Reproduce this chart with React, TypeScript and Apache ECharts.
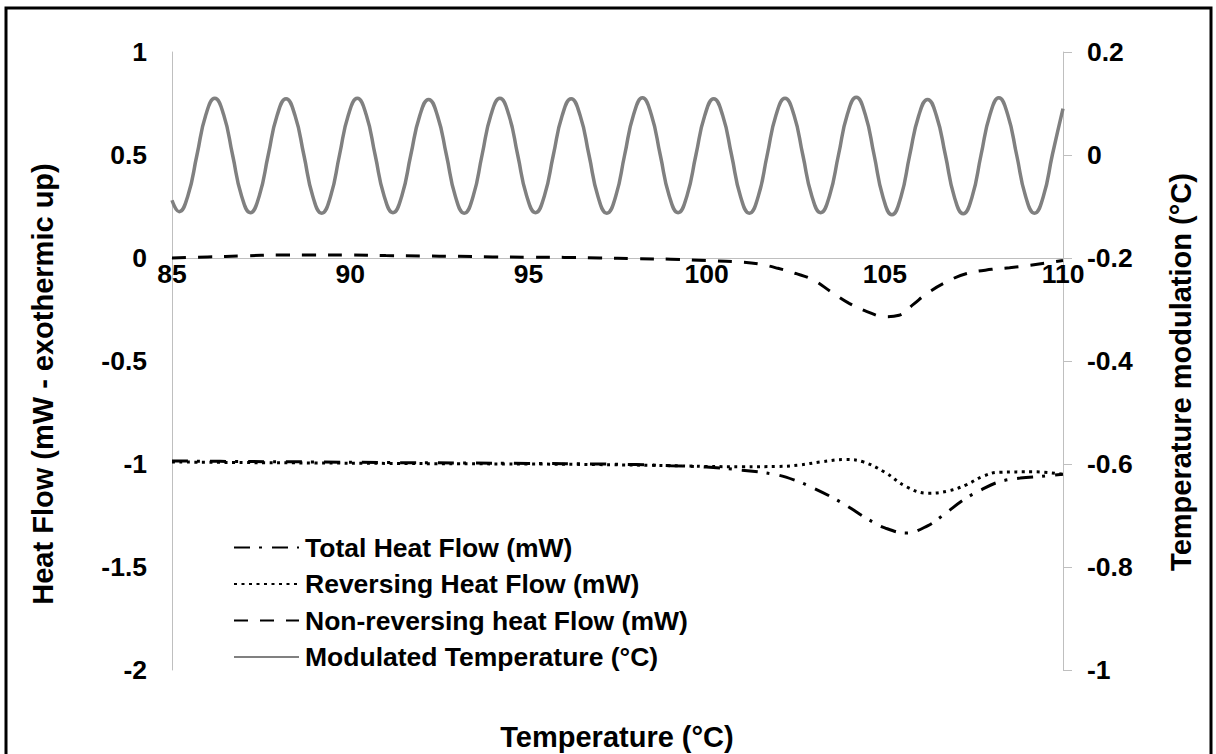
import React, { useEffect, useRef } from "react";
import * as echarts from "echarts";

// Modulated DSC run: heat flow signals (left axis, mW) and temperature modulation (right axis, °C)
const xTicks = { min: 85, max: 110, interval: 5 };
const leftTicks = { min: -2, max: 1, interval: 0.5 };
const rightTicks = { min: -1, max: 0.2, interval: 0.2 };

const seriesNames = [
  "Total Heat Flow (mW)",
  "Reversing Heat Flow (mW)",
  "Non-reversing heat Flow (mW)",
  "Modulated Temperature (°C)",
];

// [temperature °C, heat flow mW]
const totalHeatFlow: [number, number][] = [
  [85, -0.985], [87, -0.988], [89, -0.99], [91, -0.993], [93, -0.995],
  [95, -0.997], [97, -1.0], [98, -1.003], [99, -1.008], [100, -1.015],
  [101, -1.03], [101.9, -1.05], [102.5, -1.08], [103, -1.117], [103.5, -1.16],
  [104, -1.21], [104.5, -1.265], [105, -1.31], [105.6, -1.335], [106.2, -1.3],
  [106.7, -1.24], [107.2, -1.175], [107.7, -1.126], [108.2, -1.087],
  [108.8, -1.068], [109.4, -1.06], [110, -1.05],
];

const reversingHeatFlow: [number, number][] = [
  [85, -0.99], [87, -0.993], [89, -0.995], [91, -0.997], [93, -0.999],
  [95, -1.0], [97, -1.003], [99, -1.008], [100, -1.012], [101, -1.013],
  [102, -1.012], [102.6, -1.005], [103.2, -0.99], [103.9, -0.978],
  [104.4, -0.99], [105, -1.04], [105.6, -1.11], [106.2, -1.142],
  [106.8, -1.13], [107.3, -1.1], [107.75, -1.06], [108.2, -1.04],
  [109.2, -1.038], [110, -1.05],
];

const nonReversingHeatFlow: [number, number][] = [
  [85, 0.0], [86, 0.005], [87, 0.01], [88, 0.015], [89, 0.015], [90, 0.015],
  [91, 0.012], [92, 0.01], [93, 0.008], [94, 0.005], [95, 0.004], [96, 0.003],
  [97, 0.0], [98, -0.003], [99, -0.006], [100, -0.012], [101, -0.02],
  [101.5, -0.03], [102, -0.05], [102.5, -0.075], [103, -0.107],
  [103.5, -0.165], [104, -0.22], [104.5, -0.26], [105, -0.285],
  [105.4, -0.278], [105.8, -0.225], [106.2, -0.17], [106.8, -0.11],
  [107.3, -0.075], [108, -0.055], [108.5, -0.047], [109, -0.037],
  [109.5, -0.025], [110, -0.012],
];

// [temperature °C, modulation °C] sampled along the oscillation
const modulatedTemperature: [number, number][] = [
  [85.0, -0.088], [85.2, -0.11], [85.45, -0.078], [85.7, 0], [85.95, 0.078],
  [86.2, 0.11], [86.45, 0.078], [86.7, 0], [86.95, -0.079], [87.2, -0.112],
  [87.45, -0.079], [87.7, 0], [87.95, 0.077], [88.2, 0.109], [88.45, 0.077],
  [88.7, 0], [88.95, -0.08], [89.2, -0.113], [89.45, -0.08], [89.7, 0],
  [89.95, 0.078], [90.2, 0.11], [90.45, 0.078], [90.7, 0], [90.95, -0.079],
  [91.2, -0.112], [91.45, -0.079], [91.7, 0], [91.95, 0.076], [92.2, 0.108],
  [92.45, 0.076], [92.7, 0], [92.95, -0.08], [93.2, -0.113], [93.45, -0.08],
  [93.7, 0], [93.95, 0.078], [94.2, 0.11], [94.45, 0.078], [94.7, 0],
  [94.95, -0.079], [95.2, -0.112], [95.45, -0.079], [95.7, 0], [95.95, 0.077],
  [96.2, 0.109], [96.45, 0.077], [96.7, 0], [96.95, -0.08], [97.2, -0.113],
  [97.45, -0.08], [97.7, 0], [97.95, 0.078], [98.2, 0.111], [98.45, 0.078],
  [98.7, 0], [98.95, -0.079], [99.2, -0.112], [99.45, -0.079], [99.7, 0],
  [99.95, 0.077], [100.2, 0.109], [100.45, 0.077], [100.7, 0], [100.95, -0.08],
  [101.2, -0.113], [101.45, -0.08], [101.7, 0], [101.95, 0.078], [102.2, 0.11],
  [102.45, 0.078], [102.7, 0], [102.95, -0.079], [103.2, -0.112], [103.45, -0.079],
  [103.7, 0], [103.95, 0.079], [104.2, 0.112], [104.45, 0.079], [104.7, 0],
  [104.95, -0.082], [105.2, -0.116], [105.45, -0.082], [105.7, 0], [105.95, 0.076],
  [106.2, 0.108], [106.45, 0.076], [106.7, 0], [106.95, -0.081], [107.2, -0.114],
  [107.45, -0.081], [107.7, 0], [107.95, 0.078], [108.2, 0.111], [108.45, 0.078],
  [108.7, 0], [108.95, -0.08], [109.2, -0.113], [109.45, -0.08], [109.7, 0],
  [110.0, 0.09],
];

const FONT = "'Liberation Sans', Arial, sans-serif";
const AXIS_GREY = "#bfbfbf";
const CLEAR = "rgba(0,0,0,0)";

export default function App() {
  const ref = useRef<HTMLDivElement>(null);

  useEffect(() => {
    if (!ref.current) return;
    const chart = echarts.init(ref.current, undefined, { renderer: "svg" });

    const labelStyle = {
      color: "#000",
      fontFamily: FONT,
      fontWeight: "bold" as const,
      fontSize: 26.5,
    };
    const titleFont = `bold 29px ${FONT}`;

    chart.setOption({
      animation: false,
      backgroundColor: "#fff",
      grid: { left: 172, right: 153, top: 52, bottom: 84, containLabel: false },
      legend: {
        orient: "vertical",
        left: 233,
        top: 534,
        padding: 0,
        itemWidth: 65,
        itemHeight: 14,
        itemGap: 9.5,
        data: seriesNames,
        itemStyle: { color: CLEAR, borderColor: CLEAR, borderWidth: 0 },
        textStyle: { ...labelStyle, padding: [0, 0, 0, 1] },
      },
      xAxis: {
        type: "value",
        position: "bottom",
        min: xTicks.min,
        max: xTicks.max,
        interval: xTicks.interval,
        // sits on the zero line of the heat-flow axis
        offset: -412,
        axisLine: { onZero: false, lineStyle: { color: AXIS_GREY, width: 1 } },
        axisTick: { show: false },
        splitLine: { show: false },
        axisLabel: { ...labelStyle, margin: 2 },
      },
      yAxis: [
        {
          type: "value",
          position: "left",
          min: leftTicks.min,
          max: leftTicks.max,
          interval: leftTicks.interval,
          axisLine: { show: true, onZero: false, lineStyle: { color: AXIS_GREY, width: 1 } },
          axisTick: { show: false },
          splitLine: { show: false },
          axisLabel: { ...labelStyle, margin: 25 },
        },
        {
          type: "value",
          position: "right",
          min: rightTicks.min,
          max: rightTicks.max,
          interval: rightTicks.interval,
          axisLine: { show: true, onZero: false, lineStyle: { color: AXIS_GREY, width: 1 } },
          axisTick: { show: true, length: 9, lineStyle: { color: AXIS_GREY, width: 1 } },
          splitLine: { show: false },
          axisLabel: { ...labelStyle, margin: 24 },
        },
      ],
      series: [
        {
          name: seriesNames[0],
          type: "line",
          yAxisIndex: 0,
          data: totalHeatFlow,
          smooth: 0.4,
          symbol: "none",
          lineStyle: { color: "#000", width: 3, type: [16, 9, 3, 10], cap: "butt" },
          itemStyle: { color: CLEAR },
        },
        {
          name: seriesNames[1],
          type: "line",
          yAxisIndex: 0,
          data: reversingHeatFlow,
          smooth: 0.4,
          symbol: "none",
          lineStyle: { color: "#000", width: 3, type: [3, 4.5], cap: "butt" },
          itemStyle: { color: CLEAR },
        },
        {
          name: seriesNames[2],
          type: "line",
          yAxisIndex: 0,
          data: nonReversingHeatFlow,
          smooth: 0.4,
          symbol: "none",
          lineStyle: { color: "#000", width: 3, type: [14, 12], cap: "butt" },
          itemStyle: { color: CLEAR },
        },
        {
          name: seriesNames[3],
          type: "line",
          yAxisIndex: 1,
          data: modulatedTemperature,
          smooth: 0.5,
          symbol: "none",
          lineStyle: { color: "#808080", width: 3.5 },
          itemStyle: { color: CLEAR },
        },
      ],
      graphic: [
        {
          type: "rect",
          shape: { x: 6, y: 8, width: 1205, height: 780 },
          style: { fill: "none", stroke: "#000", lineWidth: 3 },
          silent: true,
        },
        {
          type: "text",
          x: 617,
          y: 737,
          style: {
            text: "Temperature (°C)",
            fill: "#000",
            font: titleFont,
            align: "center",
            verticalAlign: "middle",
          },
        },
        {
          type: "text",
          x: 43,
          y: 384,
          rotation: Math.PI / 2,
          style: {
            text: "Heat Flow (mW - exothermic up)",
            fill: "#000",
            font: titleFont,
            align: "center",
            verticalAlign: "middle",
          },
        },
        {
          type: "text",
          x: 1181,
          y: 372,
          rotation: Math.PI / 2,
          style: {
            text: "Temperature modulation (°C)",
            fill: "#000",
            font: titleFont,
            align: "center",
            verticalAlign: "middle",
          },
        },
      ],
    });

    return () => chart.dispose();
  }, []);

  return (
    <div
      ref={ref}
      style={{ position: "fixed", left: 0, top: 0, width: 1216, height: 754 }}
    />
  );
}
